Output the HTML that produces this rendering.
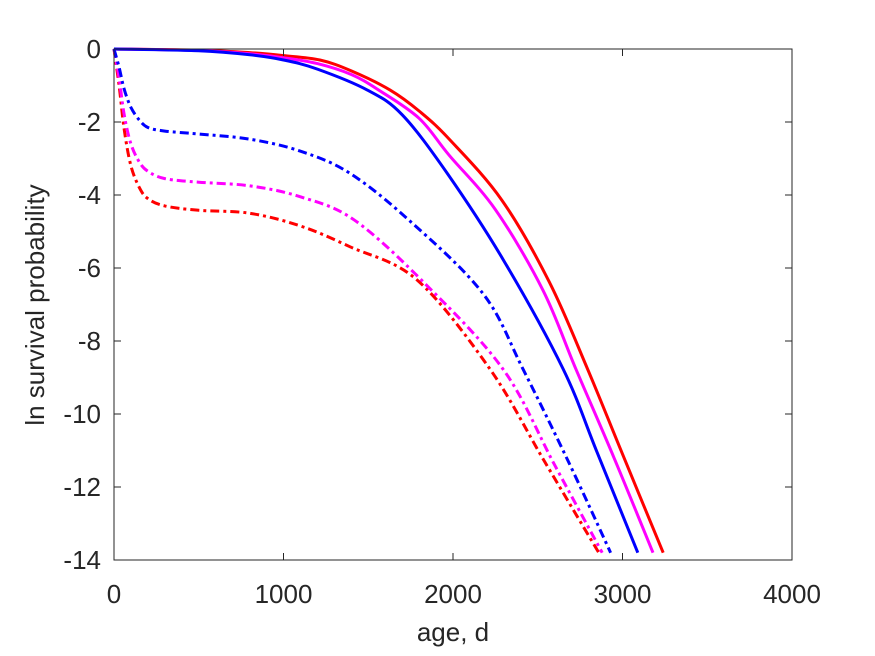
<!DOCTYPE html>
<html><head><meta charset="utf-8"><style>
body{margin:0;background:#fff;}
svg{display:block;font-family:"Liberation Sans",sans-serif;}
</style></head><body>
<svg id="chart" width="875" height="656" viewBox="0 0 875 656">
<rect x="114" y="49" width="678" height="511" fill="#fff"/>
<g id="series"></g>
<g id="axes"></g>
<text x="453" y="641" font-size="26" fill="#262626" text-anchor="middle">age, d</text>
<text transform="translate(44,305) rotate(-90)" font-size="26" fill="#262626" text-anchor="middle">ln survival probability</text>
</svg>
<script>
const xTicks=[0,1000,2000,3000,4000];
const yTicks=[0,-2,-4,-6,-8,-10,-12,-14];
const redSolidT=[0,500,800,1000,1215,1400,1628,1800,1982,2288,2569,2794,3000,3240];
const redSolidY=[0,-0.03,-0.1,-0.18,-0.3,-0.6,-1.12,-1.7,-2.49,-4.14,-6.39,-8.77,-11.1,-13.8];
const magSolidT=[0,500,800,1000,1200,1400,1560,1800,1975,2250,2530,2725,2950,3180];
const magSolidY=[0,-0.04,-0.13,-0.24,-0.4,-0.7,-1.12,-1.9,-2.9,-4.4,-6.6,-8.77,-11.2,-13.8];
const blueSolidT=[0,500,802,1000,1200,1493,1700,1965,2300,2650,2850,3090];
const blueSolidY=[0,-0.05,-0.16,-0.3,-0.55,-1.12,-1.8,-3.4,-5.8,-8.77,-11.05,-13.8];
const blueDashT=[0,30,60,100,150,200,300,500,802,1100,1390,1743,2177,2413,2680,2930];
const blueDashY=[0,-0.5,-1.1,-1.6,-1.95,-2.15,-2.25,-2.33,-2.47,-2.8,-3.4,-4.7,-6.7,-8.77,-11.3,-13.8];
const magDashT=[0,30,60,100,150,200,300,500,802,1100,1416,1829,2295,2600,2880];
const magDashY=[0,-0.8,-1.8,-2.6,-3.1,-3.35,-3.55,-3.65,-3.75,-4.05,-4.68,-6.4,-8.77,-11.4,-13.8];
const redDashT=[0,30,60,100,150,200,300,500,802,1100,1393,1788,2218,2540,2860];
const redDashY=[0,-1.0,-2.2,-3.2,-3.8,-4.1,-4.3,-4.42,-4.5,-4.85,-5.42,-6.33,-8.77,-11.3,-13.8];

const NS="http://www.w3.org/2000/svg";
const X0=114,X1=792,Y0=49,Y1=560;
function sx(v){return X0+(v-0)/(4000-0)*(X1-X0);}
function sy(v){return Y0+(0-v)/(0-(-14))*(Y1-Y0);}
const sg=document.getElementById('series');
function addLine(ts,ys,color,dash,name){
  const pts=ts.map((t,i)=>[sx(t),sy(ys[i])]);
  let d='M'+pts[0][0].toFixed(1)+','+pts[0][1].toFixed(1);
  for(let i=0;i<pts.length-1;i++){
    const p0=pts[Math.max(0,i-1)],p1=pts[i],p2=pts[i+1],p3=pts[Math.min(pts.length-1,i+2)];
    const c1x=p1[0]+(p2[0]-p0[0])/6,c1y=p1[1]+(p2[1]-p0[1])/6;
    const c2x=p2[0]-(p3[0]-p1[0])/6,c2y=p2[1]-(p3[1]-p1[1])/6;
    d+='C'+c1x.toFixed(1)+','+c1y.toFixed(1)+' '+c2x.toFixed(1)+','+c2y.toFixed(1)+' '+p2[0].toFixed(1)+','+p2[1].toFixed(1);
  }
  const p=document.createElementNS(NS,'path');
  p.setAttribute('d',d);p.setAttribute('fill','none');p.setAttribute('stroke',color);
  p.setAttribute('stroke-width','3');p.setAttribute('stroke-linejoin','round');
  if(dash)p.setAttribute('stroke-dasharray',dash);
  
  
  sg.appendChild(p);
}
const DD="9,4,3,4";
addLine(redDashT,redDashY,'#ff0000',DD,'red-dashdot-line');
addLine(magDashT,magDashY,'#ff00ff',DD,'magenta-dashdot-line');
addLine(blueDashT,blueDashY,'#0000ff',DD,'blue-dashdot-line');
addLine(redSolidT,redSolidY,'#ff0000',null,'red-solid-line');
addLine(magSolidT,magSolidY,'#ff00ff',null,'magenta-solid-line');
addLine(blueSolidT,blueSolidY,'#0000ff',null,'blue-solid-line');

const ag=document.getElementById('axes');
const frame=document.createElementNS(NS,'rect');
frame.setAttribute('x',X0);frame.setAttribute('y',Y0);frame.setAttribute('width',X1-X0);frame.setAttribute('height',Y1-Y0);
frame.setAttribute('fill','none');frame.setAttribute('stroke','#262626');frame.setAttribute('stroke-width','1');


ag.appendChild(frame);
function tickLine(x1,y1,x2,y2){
  const l=document.createElementNS(NS,'line');
  l.setAttribute('x1',x1);l.setAttribute('y1',y1);l.setAttribute('x2',x2);l.setAttribute('y2',y2);
  l.setAttribute('stroke','#262626');l.setAttribute('stroke-width','1');
  
  
  ag.appendChild(l);
}
xTicks.forEach(v=>{
  const x=sx(v);
  tickLine(x,Y1,x,Y1-7);tickLine(x,Y0,x,Y0+7);
  const t=document.createElementNS(NS,'text');
  t.setAttribute('x',x);t.setAttribute('y',Y1+43);t.setAttribute('font-size','26');
  t.setAttribute('fill','#262626');t.setAttribute('text-anchor','middle');t.textContent=v;
  
  
  ag.appendChild(t);
});
yTicks.forEach(v=>{
  const y=sy(v);
  tickLine(X0,y,X0+7,y);tickLine(X1,y,X1-7,y);
  const t=document.createElementNS(NS,'text');
  t.setAttribute('x',X0-13);t.setAttribute('y',y+9);t.setAttribute('font-size','26');
  t.setAttribute('fill','#262626');t.setAttribute('text-anchor','end');t.textContent=v;
  
  
  ag.appendChild(t);
});
</script>
</body></html>
